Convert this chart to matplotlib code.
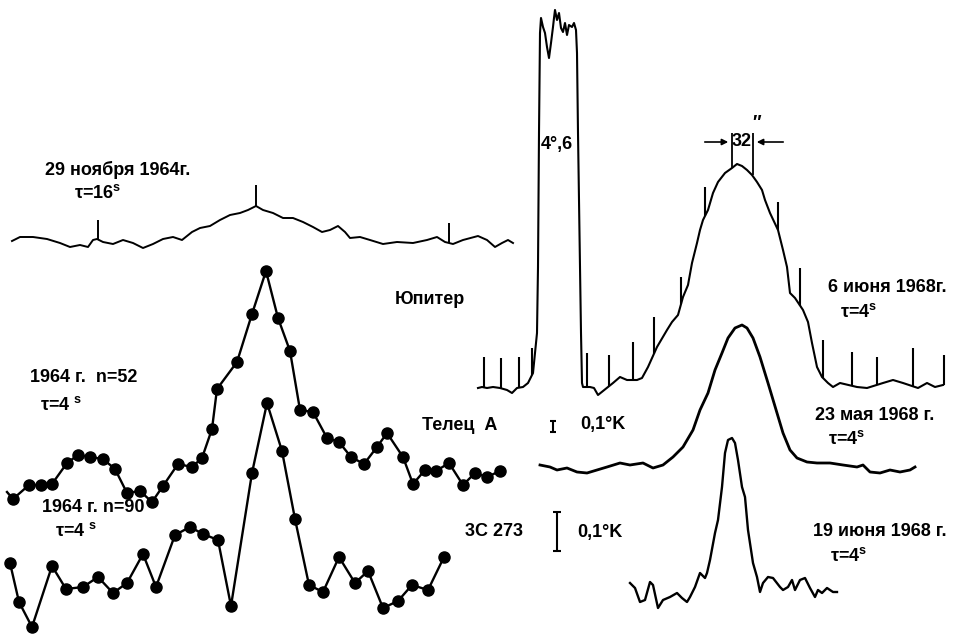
import numpy as np
import matplotlib
matplotlib.use("Agg")
from matplotlib import pyplot as plt

# 29 ноября 1964 г., tau = 16 s
nov_x = [12, 20, 33, 47, 60, 70, 80, 88, 93, 97, 103, 113, 123, 133, 143, 153, 163, 173, 182,
         192, 200, 210, 220, 230, 240, 248, 256, 263, 273, 283, 293, 303, 313, 322, 330, 338,
         345, 350, 360, 370, 383, 397, 413, 427, 437, 445, 449, 453, 463, 478, 487, 495, 502,
         508, 513]
nov_y = [241, 237, 237, 239, 243, 247, 245, 247, 240, 239, 242, 244, 240, 243, 248, 244, 239,
         237, 240, 232, 228, 226, 220, 215, 213, 210, 206, 210, 213, 218, 218, 222, 227, 232,
         230, 226, 232, 238, 237, 240, 244, 242, 243, 240, 237, 242, 243, 244, 240, 236, 240,
         247, 243, 240, 243]
nov_spike_x = [98, 256, 449]
nov_spike_top = [220, 185, 223]

# 1964 г., n = 52
n52_x = [13, 29, 41, 52, 67, 78, 90, 103, 115, 127, 140, 152, 163, 178, 192, 202, 212, 217,
         237, 252, 266, 278, 290, 300, 313, 327, 339, 351, 364, 377, 387, 403, 413, 425, 436,
         449, 463, 475, 487, 500]
n52_y = [499, 485, 485, 484, 463, 455, 457, 459, 469, 493, 491, 502, 486, 464, 467, 458, 429,
         389, 362, 314, 271, 318, 351, 410, 412, 438, 442, 457, 464, 447, 433, 457, 484, 470,
         471, 463, 485, 473, 477, 471]

# 1964 г., n = 90
n90_x = [10, 19, 32, 52, 66, 83, 98, 113, 127, 143, 156, 175, 190, 203, 218, 231, 252, 267,
         282, 295, 309, 323, 339, 355, 368, 383, 398, 412, 428, 444]
n90_y = [563, 602, 627, 566, 589, 587, 577, 593, 583, 554, 587, 535, 527, 534, 540, 606, 473,
         403, 451, 519, 585, 592, 557, 583, 571, 608, 601, 585, 590, 557]

# 6 июня 1968 г. (Юпитер + Телец А)
jun6_x = [478, 482, 487, 493, 500, 507, 512, 517, 523, 528, 533, 537, 538, 539, 540, 541, 543,
          545, 547, 549, 551, 553, 554, 555, 557, 559, 561, 563, 565, 567, 569, 572, 574, 576,
          577, 578, 580, 581, 582, 583, 590, 594, 598, 613, 620, 627, 637, 642, 648, 657, 667,
          672, 678, 683, 688, 692, 697, 700, 703, 708, 713, 718, 725, 732, 737, 742, 747, 752,
          757, 762, 765, 770, 778, 783, 787, 790, 795, 803, 808, 812, 817, 822, 828, 833, 840,
          857, 867, 883, 893, 903, 918, 927, 935, 943]
jun6_y = [388, 387, 388, 387, 388, 390, 393, 388, 387, 383, 373, 333, 267, 133, 33, 18, 27,
          33, 47, 58, 43, 27, 18, 10, 20, 13, 28, 32, 23, 35, 25, 27, 23, 30, 53, 133, 267,
          333, 383, 387, 387, 388, 395, 383, 377, 380, 380, 378, 367, 347, 330, 322, 315, 297,
          285, 263, 243, 230, 220, 210, 193, 182, 173, 168, 164, 166, 170, 175, 182, 190, 200,
          213, 230, 250, 267, 293, 298, 310, 322, 343, 367, 377, 383, 387, 383, 387, 388, 383,
          380, 383, 388, 383, 387, 385]
jun6_spike_x = [484, 501, 519, 532, 587, 609, 633, 654, 681, 705, 778, 800, 823, 852, 877, 913, 944]
jun6_spike_top = [357, 358, 357, 348, 353, 355, 342, 317, 277, 187, 202, 268, 340, 352, 357, 348, 355]

# 23 мая 1968 г.
may_x = [540, 550, 557, 567, 577, 587, 597, 607, 620, 630, 643, 653, 663, 673, 683, 693, 700,
         708, 715, 722, 728, 735, 742, 747, 753, 760, 768, 777, 783, 790, 797, 807, 817, 830,
         843, 857, 863, 870, 880, 890, 900, 910, 915]
may_y = [465, 467, 470, 468, 472, 473, 470, 467, 463, 465, 463, 468, 465, 457, 447, 430, 410,
         393, 370, 353, 338, 328, 325, 328, 338, 357, 383, 413, 433, 450, 458, 462, 463, 463,
         465, 467, 465, 472, 473, 470, 472, 470, 467]

# 19 июня 1968 г. (3C 273)
jun19_x = [630, 635, 640, 645, 650, 653, 658, 663, 670, 677, 682, 687, 690, 695, 700, 705,
           707, 710, 715, 718, 722, 725, 728, 732, 735, 738, 742, 745, 748, 753, 757, 760,
           763, 768, 773, 780, 783, 788, 792, 795, 800, 805, 810, 815, 818, 822, 827, 833, 837]
jun19_y = [583, 588, 602, 600, 582, 585, 608, 600, 597, 593, 598, 602, 597, 587, 573, 578,
           573, 560, 533, 520, 487, 453, 440, 438, 443, 460, 487, 497, 530, 563, 577, 592,
           583, 577, 578, 587, 590, 587, 580, 590, 580, 578, 588, 597, 590, 593, 588, 592, 592]

plt.rcParams["font.family"] = ["Liberation Sans Narrow", "Liberation Sans", "DejaVu Sans"]

fig = plt.figure(figsize=(9.57, 6.36), dpi=100)
ax = fig.add_axes([0, 0, 1, 1])
ax.set_xlim(0, 957)
ax.set_ylim(636, 0)
ax.axis("off")

txt = dict(fontsize=13, fontweight="bold", color="black", fontstretch="condensed")
lw = 1.7

ax.plot(nov_x, nov_y, color="black", lw=1.4)
ax.vlines(nov_spike_x, np.interp(nov_spike_x, nov_x, nov_y), nov_spike_top, color="black", lw=1.4)

ax.plot(n52_x, n52_y, "-o", color="black", lw=lw, ms=8)
ax.plot([7] + n52_x[:1], [492] + n52_y[:1], color="black", lw=lw)
ax.plot(n90_x, n90_y, "-o", color="black", lw=lw, ms=8)

ax.plot(jun6_x, jun6_y, color="black", lw=1.5)
ax.vlines(jun6_spike_x, np.interp(jun6_spike_x, jun6_x, jun6_y), jun6_spike_top, color="black", lw=1.5)

ax.plot(may_x, may_y, color="black", lw=2.0)
ax.plot(jun19_x, jun19_y, color="black", lw=1.7)

# 32" beam marker
ax.vlines([732, 753], [133, 133], [168, 175], color="black", lw=1.3)
ax.annotate("", xy=(731, 142), xytext=(702, 142),
            arrowprops=dict(arrowstyle="-|>", color="black", lw=1.2, mutation_scale=9))
ax.annotate("", xy=(754, 142), xytext=(786, 142),
            arrowprops=dict(arrowstyle="-|>", color="black", lw=1.2, mutation_scale=9))
ax.text(742, 141, "32", ha="center", va="center", **txt)
ax.text(757, 124, "″", ha="center", va="center", **txt)

# scale bars
ax.vlines([553], [421], [432], color="black", lw=1.5)
ax.hlines([421, 432], [550, 550], [556, 556], color="black", lw=1.5)
ax.vlines([557], [512], [551], color="black", lw=1.5)
ax.hlines([512, 551], [553, 553], [561, 561], color="black", lw=1.5)

ax.text(557, 145, "4°,6", ha="center", va="center", **txt)
ax.text(45, 170, "29 ноября 1964г.", ha="left", va="center", **txt)
ax.text(74, 193, "τ=16$^{\\mathregular{s}}$", ha="left", va="center", **txt)
ax.text(30, 378, "1964 г.  n=52", ha="left", va="center", **txt)
ax.text(40, 405, "τ=4 $^{\\mathregular{s}}$", ha="left", va="center", **txt)
ax.text(42, 508, "1964 г. n=90", ha="left", va="center", **txt)
ax.text(55, 531, "τ=4 $^{\\mathregular{s}}$", ha="left", va="center", **txt)
ax.text(395, 300, "Юпитер", ha="left", va="center", **txt)
ax.text(422, 425, "Телец  А", ha="left", va="center", **txt)
ax.text(580, 425, "0,1°K", ha="left", va="center", **txt)
ax.text(465, 531, "3C 273", ha="left", va="center", **txt)
ax.text(577, 532, "0,1°K", ha="left", va="center", **txt)
ax.text(828, 288, "6 июня 1968г.", ha="left", va="center", **txt)
ax.text(840, 312, "τ=4$^{\\mathregular{s}}$", ha="left", va="center", **txt)
ax.text(815, 416, "23 мая 1968 г.", ha="left", va="center", **txt)
ax.text(828, 439, "τ=4$^{\\mathregular{s}}$", ha="left", va="center", **txt)
ax.text(813, 531, "19 июня 1968 г.", ha="left", va="center", **txt)
ax.text(830, 556, "τ=4$^{\\mathregular{s}}$", ha="left", va="center", **txt)

fig.savefig("out.png", dpi=100, facecolor="white")
